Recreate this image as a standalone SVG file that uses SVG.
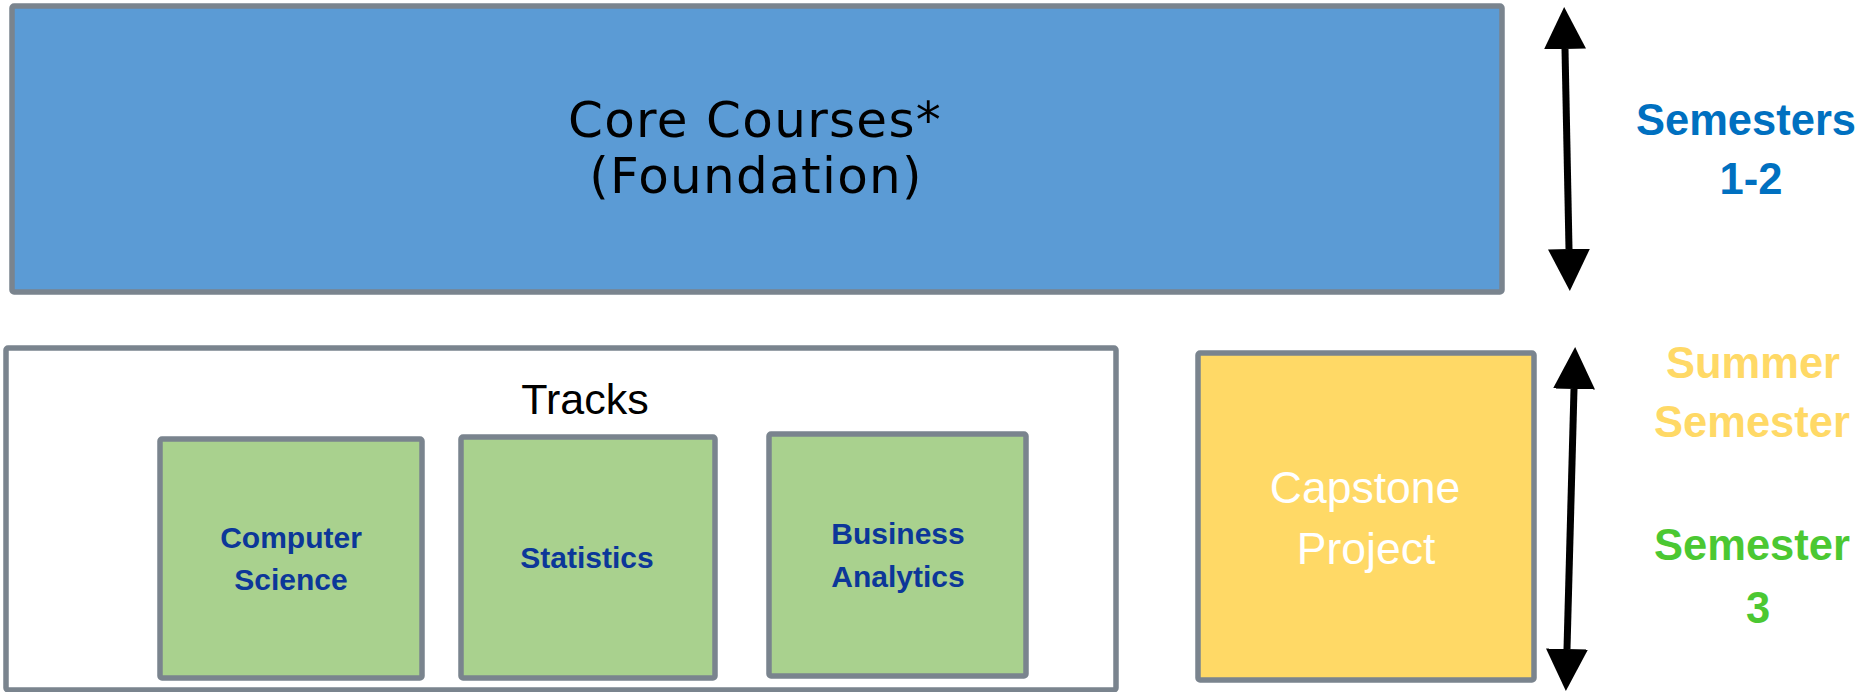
<svg xmlns="http://www.w3.org/2000/svg" width="1867" height="692" viewBox="0 0 1867 692">
  <style>
    .box { stroke: #7a848e; stroke-width: 5.5; }
    .core { fill: #5b9bd5; }
    .tracks { fill: #ffffff; }
    .track { fill: #a9d18e; }
    .cap { fill: #ffd966; }
    .coreText { font-family: "DejaVu Sans", Verdana, sans-serif; font-size: 50px; letter-spacing: 1.3px; fill: #000000; text-anchor: middle; }
    .trackText { font-family: "Liberation Sans", Arial, sans-serif; font-weight: bold; font-size: 30px; fill: #0c3799; text-anchor: middle; }
    .tracksTitle { font-family: "Liberation Sans", Arial, sans-serif; font-size: 43px; fill: #000000; text-anchor: middle; }
    .capText { font-family: "Liberation Sans", Arial, sans-serif; font-size: 44.5px; fill: #ffffff; text-anchor: middle; }
    .label { font-family: "Liberation Sans", Arial, sans-serif; font-weight: bold; font-size: 43.5px; text-anchor: middle; }
    .arrow { stroke: #000000; stroke-width: 7; fill: none; }
  </style>
  <defs>
    <marker id="head" markerUnits="userSpaceOnUse" markerWidth="44" markerHeight="44" viewBox="0 -22 44 44" refX="0" refY="0" orient="auto-start-reverse">
      <path d="M0,-21 L42,0 L0,21 Z" fill="#000000"/>
    </marker>
  </defs>

  <g id="core-courses">
    <rect class="box core" x="12" y="6" width="1490" height="286" rx="2"/>
    <text class="coreText" x="755" y="137">Core Courses*</text>
    <text class="coreText" x="756" y="193">(Foundation)</text>
  </g>

  <g id="tracks">
    <rect class="box tracks" x="6" y="348" width="1110" height="342" rx="2"/>
    <text class="tracksTitle" x="585" y="414">Tracks</text>
  </g>

  <g id="computer-science">
    <rect class="box track" x="160" y="439" width="262" height="239" rx="2"/>
    <text class="trackText" x="291" y="548">Computer</text>
    <text class="trackText" x="291" y="590">Science</text>
  </g>

  <g id="statistics">
    <rect class="box track" x="461" y="437" width="254" height="241" rx="2"/>
    <text class="trackText" x="587" y="568">Statistics</text>
  </g>

  <g id="business-analytics">
    <rect class="box track" x="769" y="434" width="257" height="242" rx="2"/>
    <text class="trackText" x="898" y="544">Business</text>
    <text class="trackText" x="898" y="587">Analytics</text>
  </g>

  <g id="capstone">
    <rect class="box cap" x="1198" y="353" width="336" height="327" rx="2"/>
    <text class="capText" x="1365" y="503">Capstone</text>
    <text class="capText" x="1366" y="564">Project</text>
  </g>

  <g id="label-semesters-1-2">
    <text class="label" x="1746" y="135" fill="#0070c0">Semesters</text>
    <text class="label" x="1751" y="194" fill="#0070c0">1-2</text>
  </g>

  <g id="label-summer">
    <text class="label" x="1753" y="378" fill="#ffd966">Summer</text>
    <text class="label" x="1752" y="437" fill="#ffd966">Semester</text>
  </g>

  <g id="label-semester-3">
    <text class="label" x="1752" y="560" fill="#4bc832">Semester</text>
    <text class="label" x="1758" y="623" fill="#4bc832">3</text>
  </g>

  <g id="connectors">
    <line class="arrow" x1="1565" y1="49" x2="1569" y2="249" marker-start="url(#head)" marker-end="url(#head)"/>
    <line class="arrow" x1="1574" y1="389" x2="1567" y2="649" marker-start="url(#head)" marker-end="url(#head)"/>
  </g>
</svg>
